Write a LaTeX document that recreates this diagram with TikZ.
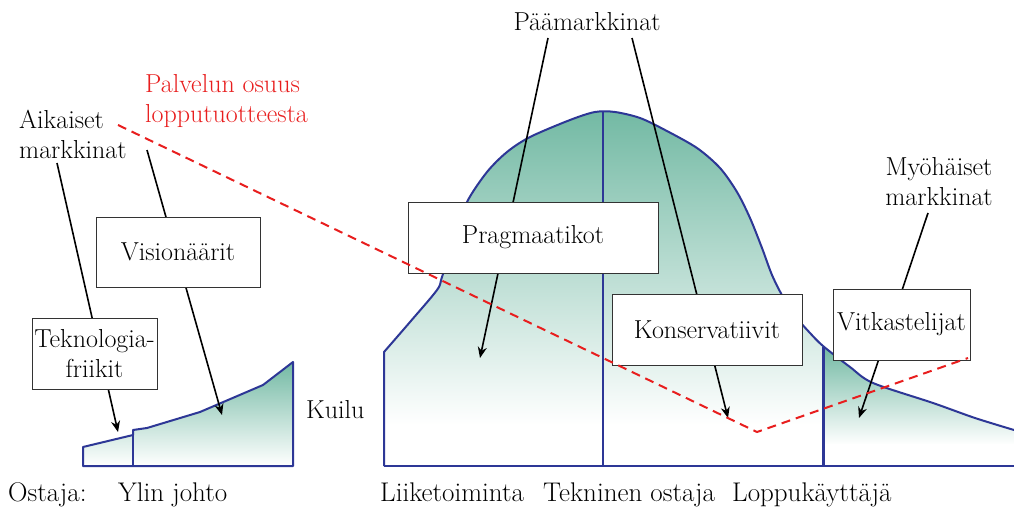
\documentclass[tikz,border=0pt]{standalone}
\usetikzlibrary{arrows.meta}
\definecolor{tealc}{RGB}{112,184,162}
\definecolor{curveblue}{RGB}{45,55,150}
\definecolor{dred}{RGB}{232,30,30}
\begin{document}
\begin{tikzpicture}[x=1pt,y=-1pt,
  font=\fontsize{26}{30}\selectfont,
  box/.style={draw=black!80, line width=1pt, fill=white, inner sep=0pt},
  lbl/.style={inner sep=0pt},
  bottomlbl/.style={inner sep=0pt, anchor=base west, font=\fontsize{27}{30}\selectfont},
  ptr/.style={line width=1.6pt, -{Stealth[length=11pt,width=9pt]}},
  outline/.style={draw=curveblue, line width=2pt, line join=round},
  reddash/.style={draw=dred, line width=2pt, dash pattern=on 9pt off 6pt}]
\useasboundingbox (0,0) rectangle (1014,508);

% ---------- right chart ----------
\def\bell{(384,352) (410,322) (437,290) (442,277) (455,237) (467,202) (487,172) (507,152) (530,137) (570,120) (595,112) (615,112) (640,118) (665,130) (697,148) (720,168) (737,192) (750,218) (762,248) (772,275) (783,297) (796,317) (810,333) (823,346) (850,367) (873,383) (933,403) (975,418) (1014,430)}
\begin{scope}
  \clip (384,466) -- plot[smooth] coordinates {\bell} -- (1014,466) -- cycle;
  \shade[top color=tealc, bottom color=white] (380,105) rectangle (823,425);
  \fill[white] (380,424) rectangle (823,470);
  \shade[top color=tealc, bottom color=white] (823,345) rectangle (1020,445);
  \fill[white] (823,444) rectangle (1020,470);
\end{scope}
\draw[outline] (384,466) -- plot[smooth] coordinates {\bell};
\draw[outline] (384,466) -- (1014,466);
\draw[outline] (603,112) -- (603,466);
\draw[outline, line width=3pt] (823,347) -- (823,466);

% ---------- left chart ----------
\begin{scope}
  \clip (83,466) -- (83,447) -- (133,435) -- (133,430) -- (147,428) -- (200,412) -- (263,385) -- (293,362) -- (293,466) -- cycle;
  \shade[top color=tealc, bottom color=white] (80,360) rectangle (300,466);
\end{scope}
\draw[outline] (83,466) -- (83,447) -- (133,435) -- (133,430) -- (147,428) -- (200,412) -- (263,385) -- (293,362) -- (293,466) -- cycle;
\draw[outline] (133,435) -- (133,466);

% ---------- labels ----------
\node[lbl, anchor=north west, align=left] (aik) at (19,110) {Aikaiset\\markkinat};
\node[lbl, anchor=north west, align=left, text=dred] (pal) at (145,74) {Palvelun osuus\\lopputuotteesta};
\node[lbl, anchor=base] (paa) at (587,31) {Päämarkkinat};
\node[lbl, anchor=north, align=center] (myo) at (939,157) {Myöhäiset\\markkinat};
\node[lbl, anchor=base west] (kuilu) at (306,418) {Kuilu};

\node[bottomlbl] (ost) at (8,501) {Ostaja:};
\node[bottomlbl] (ylin) at (118,501) {Ylin johto};
\node[bottomlbl] (liik) at (380,501) {Liiketoiminta};
\node[bottomlbl] (tekn) at (543,501) {Tekninen ostaja};
\node[bottomlbl] (lopp) at (732,501) {Loppukäyttäjä};

% ---------- pointer arrows (behind the boxes) ----------
\coordinate (a1s) at (57,163);  \coordinate (a1e) at (118,432);
\coordinate (a2s) at (147,150); \coordinate (a2e) at (222,415);
\coordinate (a3s) at (548,38);  \coordinate (a3e) at (480,358);
\coordinate (a4s) at (632,38);  \coordinate (a4e) at (728,418);
\coordinate (a5s) at (928,213); \coordinate (a5e) at (859,418);
\draw[ptr] (a1s) -- (a1e);
\draw[ptr] (a2s) -- (a2e);
\draw[ptr] (a3s) -- (a3e);
\draw[ptr] (a4s) -- (a4e);
\draw[ptr] (a5s) -- (a5e);

% ---------- boxes ----------
\node[box, minimum width=164pt, minimum height=70pt] (vis) at (178,252) {Visionäärit};
\node[box, minimum width=125pt, minimum height=71pt, align=center] (tek) at (94.5,353.5) {Teknologia-\\friikit};
\node[box, minimum width=250pt, minimum height=71pt] (prag) at (533,237.5) {Pragmaatikot};
\node[box, minimum width=190pt, minimum height=71pt] (kons) at (707,329.5) {Konservatiivit};
\node[box, minimum width=137pt, minimum height=71pt] (vitk) at (901.5,324.5) {Vitkastelijat};

% ---------- red dashed service share line ----------
\coordinate (r1) at (118,125);
\coordinate (r2) at (757,432);
\coordinate (r3) at (968,358);
\draw[reddash] (r1) -- (r2) -- (r3);
\end{tikzpicture}
\end{document}
